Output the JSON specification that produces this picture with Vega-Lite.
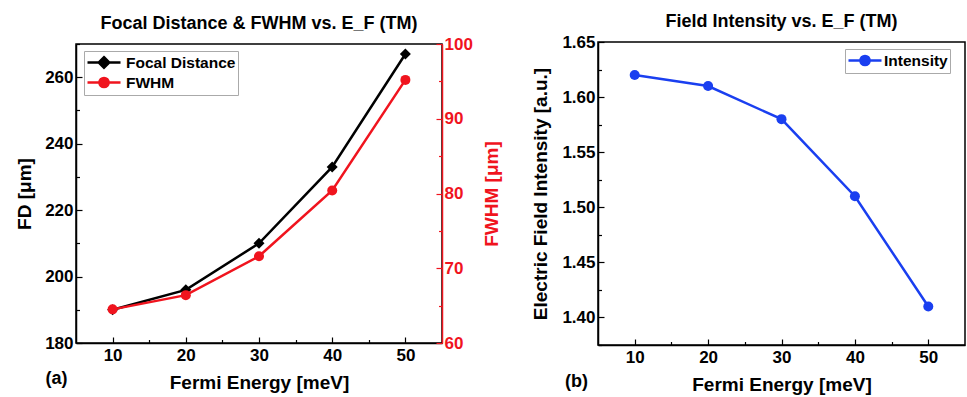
{
  "$schema": "https://vega.github.io/schema/vega-lite/v6.json",
  "background": "white",
  "padding": {"left": 14, "top": 12, "right": 2, "bottom": 3},
  "config": {
    "font": "Liberation Sans",
    "view": {"stroke": "black", "strokeWidth": 1.5},
    "title": {"font": "Liberation Sans", "fontSize": 18, "fontWeight": "bold", "color": "black", "offset": 2},
    "axis": {
      "labelFont": "Liberation Sans", "labelFontSize": 17, "labelFontWeight": "bold", "labelColor": "black",
      "titleFont": "Liberation Sans", "titleFontSize": 19, "titleFontWeight": "bold", "titleColor": "black",
      "domainColor": "black", "domainWidth": 1.5, "tickColor": "black", "tickWidth": 1.2,
      "grid": false, "labelPadding": 3
    },
    "legend": {
      "labelFont": "Liberation Sans", "labelFontSize": 15.5, "labelFontWeight": "bold", "labelColor": "black",
      "strokeColor": "#aaaaaa", "padding": 2, "symbolSize": 256, "symbolStrokeWidth": 2.5, "rowPadding": -2, "labelOffset": 21
    }
  },
  "datasets": {
    "focal": [
      {"E": 10, "series": "Focal Distance", "value": 190},
      {"E": 20, "series": "Focal Distance", "value": 196},
      {"E": 30, "series": "Focal Distance", "value": 210},
      {"E": 40, "series": "Focal Distance", "value": 233},
      {"E": 50, "series": "Focal Distance", "value": 267},
      {"E": 10, "series": "FWHM", "value": 64.5},
      {"E": 20, "series": "FWHM", "value": 66.4},
      {"E": 30, "series": "FWHM", "value": 71.6},
      {"E": 40, "series": "FWHM", "value": 80.4},
      {"E": 50, "series": "FWHM", "value": 95.2}
    ],
    "intensity": [
      {"E": 10, "series": "Intensity", "value": 1.62},
      {"E": 20, "series": "Intensity", "value": 1.61},
      {"E": 30, "series": "Intensity", "value": 1.58},
      {"E": 40, "series": "Intensity", "value": 1.51},
      {"E": 50, "series": "Intensity", "value": 1.41}
    ]
  },
  "hconcat": [
    {
      "width": 366, "height": 299,
      "title": "Focal Distance & FWHM vs. E_F (TM)",
      "data": {"name": "focal"},
      "layer": [
        {
          "transform": [{"filter": "datum.series === 'Focal Distance'"}],
          "layer": [
            {"mark": {"type": "line", "color": "black", "strokeWidth": 2.5}, "encoding": {}},
            {"mark": {"type": "point", "shape": "diamond", "filled": true, "color": "black", "size": 121, "opacity": 1}, "encoding": {}}
          ],
          "encoding": {
            "x": {"field": "E", "type": "quantitative", "scale": {"domain": [5, 55]},
              "axis": {"title": "Fermi Energy [meV]", "orient": "bottom", "values": [10, 15, 20, 25, 30, 35, 40, 45, 50],
                "labelExpr": "datum.value % 10 === 0 ? datum.label : ''",
                "tickSize": {"condition": {"test": "datum.value % 10 === 0", "value": -6}, "value": -3.5},
                "labelPadding": 10, "titlePadding": 10}},
            "y": {"field": "value", "type": "quantitative", "scale": {"domain": [180, 270], "nice": false, "zero": false},
              "axis": {"title": "FD [μm]", "orient": "left", "values": [180, 190, 200, 210, 220, 230, 240, 250, 260, 270],
                "labelExpr": "datum.value % 20 === 0 ? datum.label : ''",
                "tickSize": {"condition": {"test": "datum.value % 20 === 0", "value": -6}, "value": -3.5},
                "labelPadding": 9, "titlePadding": 10.5}}
          }
        },
        {
          "transform": [{"filter": "datum.series === 'FWHM'"}],
          "layer": [
            {"mark": {"type": "line", "color": "#f0141e", "strokeWidth": 2.5}, "encoding": {}},
            {"mark": {"type": "point", "shape": "circle", "filled": true, "color": "#f0141e", "size": 100, "opacity": 1}, "encoding": {}}
          ],
          "encoding": {
            "x": {"field": "E", "type": "quantitative", "axis": null},
            "y": {"field": "value", "type": "quantitative", "scale": {"domain": [60, 100], "nice": false, "zero": false},
              "axis": {"title": "FWHM [μm]", "orient": "right", "values": [60, 65, 70, 75, 80, 85, 90, 95, 100],
                "labelExpr": "datum.value % 10 === 0 ? datum.label : ''",
                "tickSize": {"condition": {"test": "datum.value % 10 === 0", "value": -6}, "value": -3.5},
                "labelPadding": 8, "titlePadding": 10, "titleAngle": 270, "titleBaseline": "top",
                "domainColor": "#f0141e", "tickColor": "#f0141e", "labelColor": "#f0141e", "titleColor": "#f0141e"}}
          }
        },
        {
          "transform": [{"filter": "datum.value < 0"}],
          "mark": {"type": "point", "opacity": 1},
          "encoding": {
            "x": {"field": "E", "type": "quantitative",
              "axis": {"title": "(a)", "orient": "bottom", "labels": false, "ticks": false, "domain": false,
                "titleX": -20, "titleY": 35, "titleAlign": "center", "titleBaseline": "middle", "titleFontSize": 18}},
            "fill": {"field": "series", "type": "nominal", "scale": {"domain": ["Focal Distance", "FWHM"], "range": ["black", "#f0141e"]}, "legend": {"title": null, "orient": "none", "legendX": 8, "legendY": 7, "rowPadding": -2}},
            "stroke": {"field": "series", "type": "nominal", "scale": {"domain": ["Focal Distance", "FWHM"], "range": ["black", "#f0141e"]}, "legend": {"title": null, "orient": "none", "legendX": 8, "legendY": 7, "rowPadding": -2}},
            "shape": {"field": "series", "type": "nominal", "scale": {"domain": ["Focal Distance", "FWHM"],
              "range": ["M-1,0H3.125M1.06,-0.66L1.72,0L1.06,0.66L0.4,0Z", "M-1,0H3.125M1.64,0A0.575,0.575,0,1,1,0.49,0A0.575,0.575,0,1,1,1.64,0Z"]},
              "legend": {"title": null, "orient": "none", "legendX": 8, "legendY": 7, "rowPadding": -2}}
          }
        }
      ],
      "resolve": {"scale": {"y": "independent"}, "axis": {"x": "independent", "y": "independent"}}
    },
    {
      "width": 367, "height": 303,
      "title": "Field Intensity vs. E_F (TM)",
      "data": {"name": "intensity"},
      "layer": [
        {
          "layer": [
            {"mark": {"type": "line", "color": "#1a3ff0", "strokeWidth": 2.5}, "encoding": {}},
            {"mark": {"type": "point", "shape": "circle", "filled": true, "color": "#1a3ff0", "size": 100, "opacity": 1}, "encoding": {}}
          ],
          "encoding": {
            "x": {"field": "E", "type": "quantitative", "scale": {"domain": [5, 55]},
              "axis": {"title": "Fermi Energy [meV]", "orient": "bottom", "values": [10, 15, 20, 25, 30, 35, 40, 45, 50],
                "labelExpr": "datum.value % 10 === 0 ? datum.label : ''",
                "tickSize": {"condition": {"test": "datum.value % 10 === 0", "value": -6}, "value": -3.5},
                "labelPadding": 10, "titlePadding": 10}},
            "y": {"field": "value", "type": "quantitative", "scale": {"domain": [1.375, 1.65], "nice": false, "zero": false},
              "axis": {"title": "Electric Field Intensity [a.u.]", "orient": "left",
                "values": [1.375, 1.4, 1.425, 1.45, 1.475, 1.5, 1.525, 1.55, 1.575, 1.6, 1.625, 1.65],
                "format": ".2f",
                "labelExpr": "round(datum.value * 1000) % 50 === 0 ? datum.label : ''",
                "tickSize": {"condition": {"test": "round(datum.value * 1000) % 50 === 0", "value": -6}, "value": -3.5},
                "labelPadding": 9, "titlePadding": 11}}
          }
        },
        {
          "transform": [{"filter": "datum.value < 0"}],
          "mark": {"type": "point", "opacity": 1},
          "encoding": {
            "x": {"field": "E", "type": "quantitative",
              "axis": {"title": "(b)", "orient": "bottom", "labels": false, "ticks": false, "domain": false,
                "titleX": -22, "titleY": 36, "titleAlign": "center", "titleBaseline": "middle", "titleFontSize": 18}},
            "fill": {"field": "series", "type": "nominal", "scale": {"domain": ["Intensity"], "range": ["#1a3ff0"]}, "legend": {"title": null, "orient": "none", "legendX": 247, "legendY": 7, "labelOffset": 18}},
            "stroke": {"field": "series", "type": "nominal", "scale": {"domain": ["Intensity"], "range": ["#1a3ff0"]}, "legend": {"title": null, "orient": "none", "legendX": 247, "legendY": 7, "labelOffset": 18}},
            "shape": {"field": "series", "type": "nominal", "scale": {"domain": ["Intensity"],
              "range": ["M-1,0H3.125M1.64,0A0.575,0.575,0,1,1,0.49,0A0.575,0.575,0,1,1,1.64,0Z"]},
              "legend": {"title": null, "orient": "none", "legendX": 247, "legendY": 7, "labelOffset": 18}}
          }
        }
      ],
      "resolve": {"axis": {"x": "independent"}}
    }
  ],
  "resolve": {"scale": {"fill": "independent", "stroke": "independent", "shape": "independent"}, "legend": {"fill": "independent", "stroke": "independent", "shape": "independent"}},
  "spacing": 156,
  "bounds": "flush",
  "center": true
}
